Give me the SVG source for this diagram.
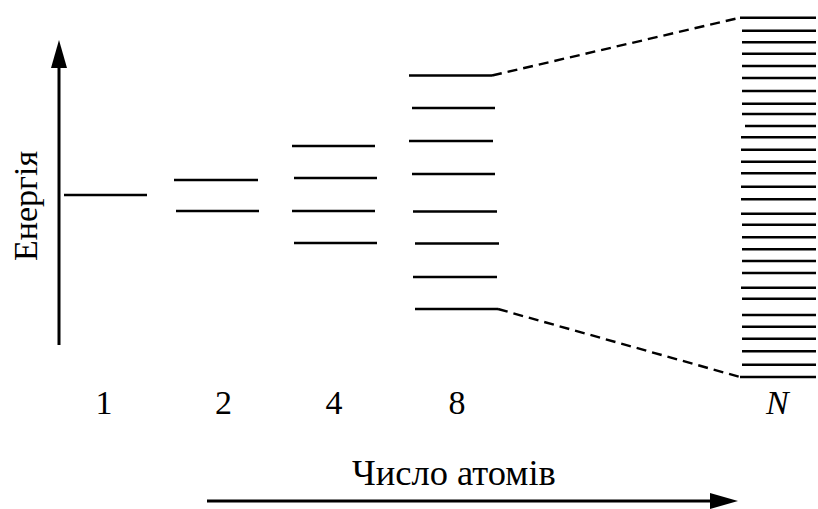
<svg xmlns="http://www.w3.org/2000/svg" width="818" height="509" viewBox="0 0 818 509">
<style>
.lv{stroke:#000;stroke-width:2.6;fill:none}
.ax{stroke:#000;stroke-width:3;fill:none}
.dash{stroke:#000;stroke-width:2.4;fill:none;stroke-dasharray:10 6}
.t{fill:#000;font-size:34px}
</style>
<rect width="818" height="509" fill="#fff"/>
<g id="labels">
<text class="t" style="font-family:'Liberation Serif'" transform="translate(37,261) rotate(-90)">Енергія</text>
<text class="t" style="font-family:'Liberation Serif'" x="95.5" y="414">1</text>
<text class="t" style="font-family:'Liberation Serif'" x="215" y="414">2</text>
<text class="t" style="font-family:'Liberation Serif'" x="325.5" y="414">4</text>
<text class="t" style="font-family:'Liberation Serif'" x="448.5" y="414">8</text>
<text class="t" style="font-family:'Liberation Serif';font-style:italic" x="766" y="414">N</text>
<text class="t" style="font-family:'Liberation Serif';font-size:36.5px" x="352" y="485">Число атомів</text>
</g>
<g id="connectors">
<line class="ax" x1="59" y1="345" x2="59" y2="66"/>
<path d="M59,40 L67,68 L51,68 Z" fill="#000"/>
<line class="ax" x1="207" y1="501" x2="712" y2="501"/>
<path d="M738,501 L710,493 L710,509 Z" fill="#000"/>
<path class="dash" d="M492,75.5 L740,17.7"/>
<path class="dash" d="M498,309 L740,377"/>
</g>
<g id="level-1">
<line class="lv" x1="64" y1="195" x2="147" y2="195"/>
</g>
<g id="level-2">
<line class="lv" x1="174" y1="180" x2="258" y2="180"/>
<line class="lv" x1="176" y1="211" x2="259" y2="211"/>
</g>
<g id="level-4">
<line class="lv" x1="292" y1="146" x2="375" y2="146"/>
<line class="lv" x1="294" y1="178" x2="377" y2="178"/>
<line class="lv" x1="292" y1="211" x2="375" y2="211"/>
<line class="lv" x1="294" y1="243" x2="377" y2="243"/>
</g>
<g id="level-8">
<line class="lv" x1="409" y1="75.5" x2="492" y2="75.5"/>
<line class="lv" x1="412" y1="108" x2="495" y2="108"/>
<line class="lv" x1="409" y1="141" x2="493" y2="141"/>
<line class="lv" x1="412" y1="174" x2="495" y2="174"/>
<line class="lv" x1="413" y1="211.5" x2="497" y2="211.5"/>
<line class="lv" x1="415" y1="243.5" x2="499" y2="243.5"/>
<line class="lv" x1="413" y1="277" x2="497" y2="277"/>
<line class="lv" x1="415" y1="309" x2="498" y2="309"/>
</g>
<g id="level-N">
<line class="lv" x1="740" y1="17.7" x2="816" y2="17.7"/>
<line class="lv" x1="742" y1="30.7" x2="816" y2="30.7"/>
<line class="lv" x1="742" y1="42.3" x2="816" y2="42.3"/>
<line class="lv" x1="742" y1="53.7" x2="816" y2="53.7"/>
<line class="lv" x1="742" y1="66" x2="816" y2="66"/>
<line class="lv" x1="742" y1="78" x2="816" y2="78"/>
<line class="lv" x1="742" y1="91" x2="816" y2="91"/>
<line class="lv" x1="742" y1="103.7" x2="816" y2="103.7"/>
<line class="lv" x1="742" y1="114" x2="816" y2="114"/>
<line class="lv" x1="745" y1="126" x2="816" y2="126"/>
<line class="lv" x1="741" y1="137.3" x2="816" y2="137.3"/>
<line class="lv" x1="741" y1="149.7" x2="816" y2="149.7"/>
<line class="lv" x1="741" y1="161.7" x2="816" y2="161.7"/>
<line class="lv" x1="741" y1="173.3" x2="816" y2="173.3"/>
<line class="lv" x1="741" y1="186.7" x2="816" y2="186.7"/>
<line class="lv" x1="741" y1="199.3" x2="816" y2="199.3"/>
<line class="lv" x1="741" y1="213.7" x2="816" y2="213.7"/>
<line class="lv" x1="742" y1="224.7" x2="816" y2="224.7"/>
<line class="lv" x1="742" y1="237.3" x2="816" y2="237.3"/>
<line class="lv" x1="742" y1="249.3" x2="816" y2="249.3"/>
<line class="lv" x1="742" y1="261" x2="816" y2="261"/>
<line class="lv" x1="742" y1="273" x2="816" y2="273"/>
<line class="lv" x1="741" y1="287.7" x2="816" y2="287.7"/>
<line class="lv" x1="742" y1="298.7" x2="816" y2="298.7"/>
<line class="lv" x1="742" y1="315" x2="816" y2="315"/>
<line class="lv" x1="742" y1="326.7" x2="816" y2="326.7"/>
<line class="lv" x1="742" y1="338.7" x2="816" y2="338.7"/>
<line class="lv" x1="742" y1="351.3" x2="816" y2="351.3"/>
<line class="lv" x1="742" y1="364.7" x2="816" y2="364.7"/>
<line class="lv" x1="740" y1="377" x2="816" y2="377"/>
</g>
</svg>
